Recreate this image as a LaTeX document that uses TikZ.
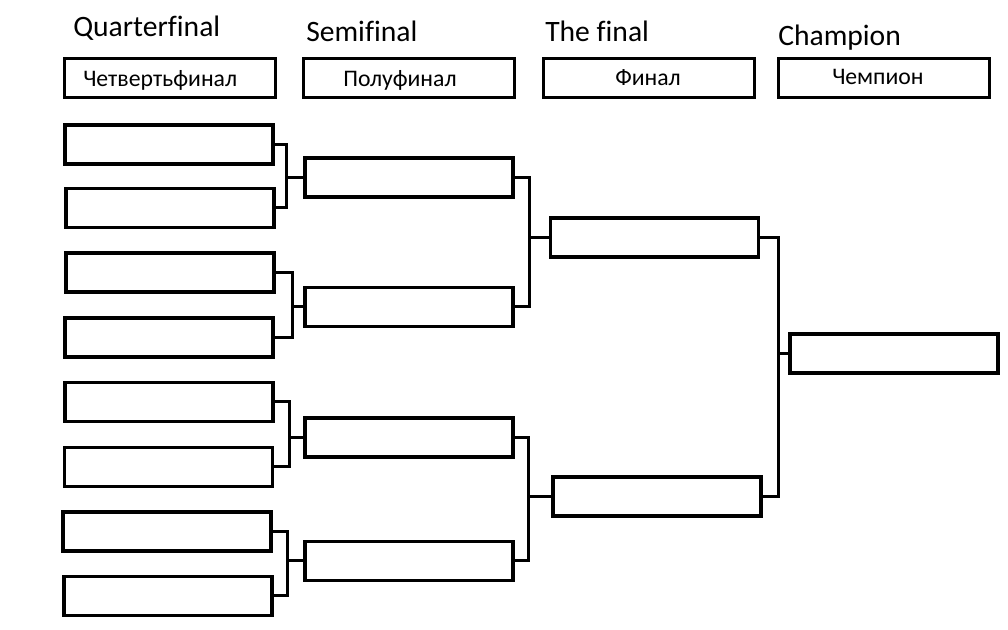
\documentclass[tikz,border=0pt]{standalone}
\usepackage{fontspec}
\setmainfont[Ligatures=NoCommon]{Carlito}
\begin{document}
\begin{tikzpicture}[x=0.75pt,y=-0.75pt,
  gamebox/.style={draw,line width=2.4pt,minimum width=156pt,minimum height=29.25pt,inner sep=0pt,outer sep=0pt},
  headbox/.style={draw,line width=2.4pt,minimum width=158pt,minimum height=29.25pt,inner sep=0pt,outer sep=0pt},
  conn/.style={line width=2.25pt},
  title/.style={anchor=base west,inner sep=0pt,font=\fontsize{22.2}{26}\selectfont},
  headtext/.style={anchor=base west,inner sep=0pt,font=\fontsize{17.8}{21}\selectfont}]
\useasboundingbox (0,0) rectangle (1008,630);
% titles
\node[title] (t1) at (73,37) {Quarterfinal};
\node[title] (t2) at (306,42) {Semifinal};
\node[title] (t3) at (545,42) {The final};
\node[title] (t4) at (778,46) {Champion};
% header boxes
\node[headbox] (h1) at (170,78) {};
\node[headbox] (h2) at (409,78) {};
\node[headbox] (h3) at (649,78) {};
\node[headbox] (h4) at (884,78) {};
\node[headtext] (ht1) at (83,87) {Четвертьфинал};
\node[headtext] (ht2) at (343,87) {Полуфинал};
\node[headtext] (ht3) at (615,86) {Финал};
\node[headtext] (ht4) at (832,85) {Чемпион};
% quarterfinal boxes
\node[gamebox] (q1) at (169,144.5) {};
\node[gamebox] (q2) at (170,208) {};
\node[gamebox] (q3) at (170,272.5) {};
\node[gamebox] (q4) at (169,337.5) {};
\node[gamebox] (q5) at (169,402) {};
\node[gamebox] (q6) at (168.5,467) {};
\node[gamebox] (q7) at (167,531.5) {};
\node[gamebox] (q8) at (168,596) {};
% semifinal boxes
\node[gamebox] (s1) at (409,177.5) {};
\node[gamebox] (s2) at (409,307) {};
\node[gamebox] (s3) at (409,437.5) {};
\node[gamebox] (s4) at (409,561) {};
% final boxes
\node[gamebox] (f1) at (654.5,237.5) {};
\node[gamebox] (f2) at (657,496.5) {};
% champion
\node[gamebox] (c) at (894,353.5) {};
% junctions
\coordinate (j1) at (286,177.5);
\coordinate (j2) at (292,307);
\coordinate (j3) at (289,437.5);
\coordinate (j4) at (287,561);
\coordinate (k1) at (529,237.5);
\coordinate (k2) at (528,496.5);
\coordinate (m) at (778,353.5);
% connectors
\draw[conn] (q1.east) -| (j1) |- (q2.east);
\draw[conn] (j1) -- (s1.west);
\draw[conn] (q3.east) -| (j2) |- (q4.east);
\draw[conn] (j2) -- (s2.west);
\draw[conn] (q5.east) -| (j3) |- (q6.east);
\draw[conn] (j3) -- (s3.west);
\draw[conn] (q7.east) -| (j4) |- (q8.east);
\draw[conn] (j4) -- (s4.west);
\draw[conn] (s1.east) -| (k1) |- (s2.east);
\draw[conn] (k1) -- (f1.west);
\draw[conn] (s3.east) -| (k2) |- (s4.east);
\draw[conn] (k2) -- (f2.west);
\draw[conn] (f1.east) -| (m) |- (f2.east);
\draw[conn] (m) -- (c.west);
\end{tikzpicture}
\end{document}
